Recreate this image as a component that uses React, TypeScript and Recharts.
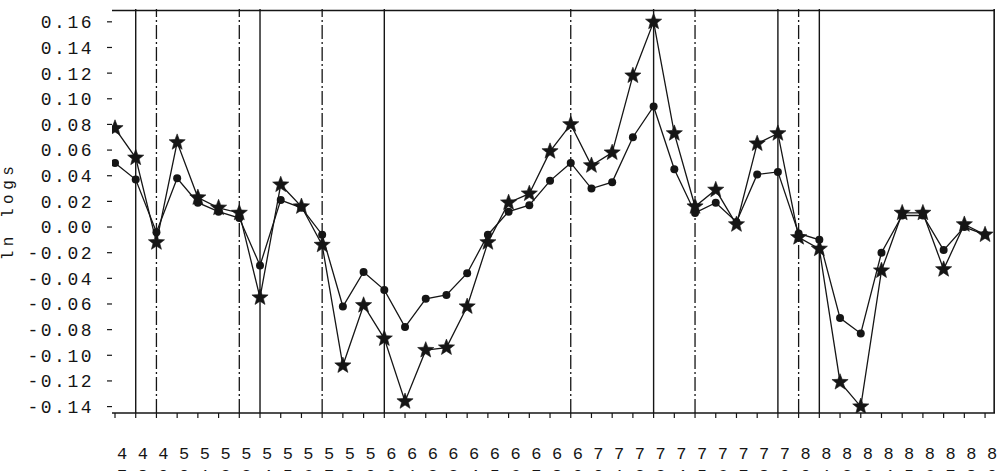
import React from "react";
import { LineChart, Line, XAxis, YAxis, ReferenceLine } from "recharts";

// years 1947..1989, shown as two stacked digits under the axis
const years = [
  47, 48, 49, 50, 51, 52, 53, 54, 55, 56, 57, 58, 59, 60, 61, 62, 63, 64, 65, 66, 67, 68,
  69, 70, 71, 72, 73, 74, 75, 76, 77, 78, 79, 80, 81, 82, 83, 84, 85, 86, 87, 88, 89,
];

// starred series (larger swings)
const starValues = [
  0.077, 0.054, -0.012, 0.066, 0.023, 0.015, 0.011, -0.055, 0.033, 0.016, -0.014, -0.108,
  -0.061, -0.087, -0.136, -0.096, -0.094, -0.062, -0.012, 0.019, 0.026, 0.059, 0.08, 0.048,
  0.058, 0.118, 0.16, 0.073, 0.016, 0.029, 0.002, 0.065, 0.073, -0.008, -0.017, -0.121, -0.14,
  -0.034, 0.011, 0.011, -0.033, 0.002, -0.006,
];

// dotted series
const dotValues = [
  0.05, 0.037, -0.004, 0.038, 0.019, 0.012, 0.007, -0.03, 0.021, 0.015, -0.006, -0.062,
  -0.035, -0.049, -0.078, -0.056, -0.053, -0.036, -0.006, 0.012, 0.017, 0.036, 0.05, 0.03,
  0.035, 0.07, 0.094, 0.045, 0.011, 0.019, 0.004, 0.041, 0.043, -0.005, -0.01, -0.071, -0.083,
  -0.02, 0.009, 0.009, -0.018, 0.0, -0.006,
];

const yTicks = [
  -0.14, -0.12, -0.1, -0.08, -0.06, -0.04, -0.02, 0, 0.02, 0.04, 0.06, 0.08, 0.1, 0.12, 0.14,
  0.16,
];

// vertical marker years
const solidMarks = [48, 54, 60, 73, 79, 81];
const dashedMarks = [49, 53, 57, 69, 75, 80];

const xDomain = [46.855, 89.48];
const yDomain = [-0.145, 0.17];
// frame edges, kept a hair inside the domain so they are not clipped
const frameTop = 0.1688;
const frameRight = 89.44;

const data = years.map((yr, i) => ({ yr, star: starValues[i], dot: dotValues[i] }));

const ink = "#151515";
const mono = "'Liberation Mono', 'DejaVu Sans Mono', monospace";

const Star = (props: any) => {
  const { cx, cy } = props;
  if (cx == null || cy == null) return null;
  const pts: string[] = [];
  for (let k = 0; k < 10; k++) {
    const r = k % 2 === 0 ? 8.5 : 3.6;
    const a = -Math.PI / 2 + (k * Math.PI) / 5;
    pts.push(`${cx + r * Math.cos(a)},${cy + r * Math.sin(a)}`);
  }
  return <polygon points={pts.join(" ")} fill={ink} stroke={ink} strokeWidth={0.6} />;
};

const Dot = (props: any) => {
  const { cx, cy } = props;
  if (cx == null || cy == null) return null;
  return <circle cx={cx} cy={cy} r={4} fill={ink} />;
};

const YearTick = (props: any) => {
  const { x, y, payload } = props;
  const s = String(payload.value);
  return (
    <g transform={`translate(${x + 7},${y})`}>
      <text textAnchor="middle" y={41} fontSize={17} fontFamily={mono} fill={ink}>
        {s[0]}
      </text>
      <text textAnchor="middle" y={63} fontSize={17} fontFamily={mono} fill={ink}>
        {s[1]}
      </text>
    </g>
  );
};

const AxisTitle = (props: any) => {
  const { viewBox } = props;
  const cy = viewBox.y + viewBox.height / 2;
  return (
    <text
      x={13}
      y={cy}
      transform={`rotate(-90 13 ${cy})`}
      textAnchor="middle"
      fontSize={16}
      fontFamily={mono}
      letterSpacing={4.5}
      fill={ink}
    >
      ln logs
    </text>
  );
};

const fmt = (v: number) => v.toFixed(2);

export default function App() {
  return (
    <div style={{ position: "absolute", left: 0, top: 0, width: 1002, height: 471, background: "#fff" }}>
      <LineChart
        width={1002}
        height={471}
        data={data}
        margin={{ top: 9, right: 7, left: 0, bottom: 0 }}
      >
        <XAxis
          dataKey="yr"
          type="number"
          domain={xDomain}
          ticks={years}
          interval={0}
          allowDataOverflow
          height={58}
          tickSize={5}
          tickMargin={0}
          axisLine={{ stroke: ink, strokeWidth: 1.5 }}
          tickLine={{ stroke: ink, strokeWidth: 1.2 }}
          tick={<YearTick />}
        />
        <YAxis
          type="number"
          domain={yDomain}
          ticks={yTicks}
          interval={0}
          allowDataOverflow
          width={112}
          tickSize={5}
          tickMargin={13}
          axisLine={false}
          tickLine={{ stroke: ink, strokeWidth: 1.2 }}
          tickFormatter={fmt}
          tick={{ fontSize: 18, fontFamily: mono, fill: ink, letterSpacing: 2.5 }}
          label={{ content: <AxisTitle /> }}
        />
        <ReferenceLine y={frameTop} stroke={ink} strokeWidth={1.6} />
        <ReferenceLine x={frameRight} stroke={ink} strokeWidth={1.6} />
        {solidMarks.map((m) => (
          <ReferenceLine key={`s${m}`} x={m} stroke={ink} strokeWidth={1.4} />
        ))}
        {dashedMarks.map((m) => (
          <ReferenceLine key={`d${m}`} x={m} stroke={ink} strokeWidth={1.3} strokeDasharray="14 3 2 3" />
        ))}
        <Line
          dataKey="dot"
          stroke={ink}
          strokeWidth={1.3}
          dot={<Dot />}
          activeDot={false}
          isAnimationActive={false}
        />
        <Line
          dataKey="star"
          stroke={ink}
          strokeWidth={1.3}
          dot={<Star />}
          activeDot={false}
          isAnimationActive={false}
        />
      </LineChart>
    </div>
  );
}
